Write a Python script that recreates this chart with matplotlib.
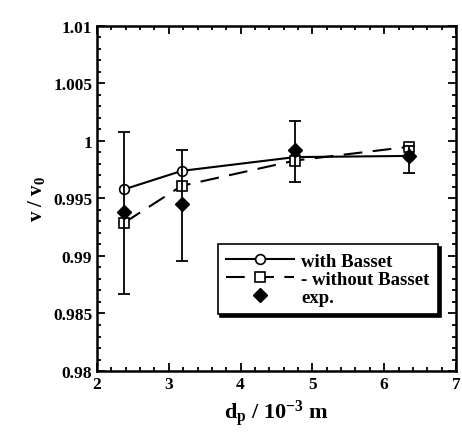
import numpy as np
import matplotlib
matplotlib.use("Agg")
import matplotlib.pyplot as plt
from matplotlib.ticker import MultipleLocator

plt.rcParams['font.family'] = ['Liberation Serif', 'DejaVu Serif']
plt.rcParams['font.weight'] = 'bold'
plt.rcParams['mathtext.default'] = 'regular'
plt.rcParams['axes.unicode_minus'] = False

dp = [2.38, 3.18, 4.76, 6.35]
with_basset = [0.9958, 0.9974, 0.9986, 0.9987]
without_basset = [0.9929, 0.9961, 0.9983, 0.9995]
exp_v = [0.9938, 0.9945, 0.9992, 0.9987]
exp_hi = [1.0008, 0.9992, 1.0017, 0.9996]
exp_lo = [0.9867, 0.9896, 0.9964, 0.9972]

fig = plt.figure(figsize=(4.62, 4.39), dpi=100)
ax = fig.add_axes([0.21, 0.1526, 0.777, 0.786])

l1, = ax.plot(dp, with_basset, color="black", lw=1.5, marker="o", ms=7,
              mfc="white", mec="black", mew=1.2, label="with Basset")
l2, = ax.plot(dp, without_basset, color="black", lw=1.5, dashes=(9, 5), marker="s", ms=7,
              mfc="white", mec="black", mew=1.2, label="- without Basset")
yerr = [np.array(exp_v) - np.array(exp_lo), np.array(exp_hi) - np.array(exp_v)]
eb = ax.errorbar(dp, exp_v, yerr=yerr, fmt="D", color="black", ms=7, ecolor="black",
                 elinewidth=1.3, capsize=4, capthick=1.3, label="exp.")

ax.set_xlim(2, 7)
ax.set_ylim(0.98, 1.01)
ax.xaxis.set_major_locator(MultipleLocator(1))
ax.xaxis.set_minor_locator(MultipleLocator(0.2))
ax.yaxis.set_minor_locator(MultipleLocator(0.001))
ax.set_yticks([0.98, 0.985, 0.99, 0.995, 1.0, 1.005, 1.01])
ax.set_yticklabels(["0.98", "0.985", "0.99", "0.995", "1", "1.005", "1.01"])
ax.tick_params(which="both", direction="in", top=True, right=True, labelsize=12.5, width=1.3)
ax.tick_params(which="major", length=6)
ax.tick_params(which="minor", length=3)
for s in ax.spines.values():
    s.set_linewidth(1.8)

ax.set_xlabel("d$_p$ / 10$^{-3}$ m", fontsize=16, fontweight="bold", labelpad=4)
ax.set_ylabel("v / v$_0$", fontsize=15, fontweight="bold", labelpad=4)

leg = ax.legend([l1, l2, eb[0]], ["with Basset", "- without Basset", "exp."],
                loc="upper left", bbox_to_anchor=(0.31, 0.395), fancybox=False,
                shadow={"color": "black", "alpha": 1}, edgecolor="black", framealpha=1,
                fontsize=13.5, handlelength=3.6, handletextpad=0.4, labelspacing=0.05,
                borderpad=0.45)
leg.get_frame().set_linewidth(1.2)

fig.savefig("out.png", dpi=100)
